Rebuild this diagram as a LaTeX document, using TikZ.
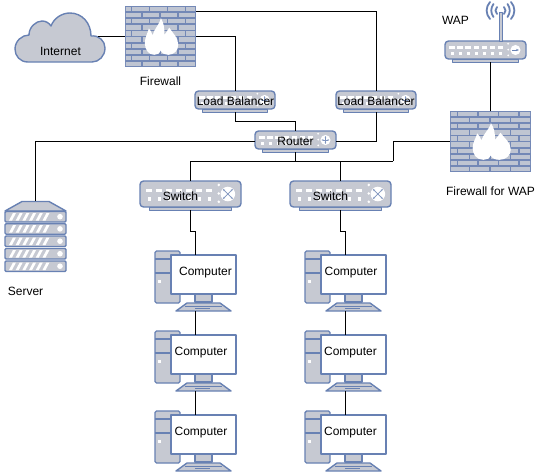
\documentclass[tikz,border=0pt]{standalone}
\usepackage{fontspec}
\setmainfont{Liberation Sans}
\usetikzlibrary{arrows.meta}
\definecolor{devline}{HTML}{6881B3}
\definecolor{devfill}{HTML}{C6C9D2}
\definecolor{mortar}{HTML}{7388B6}
\definecolor{brick}{HTML}{BFC5D2}
\tikzset{
  x=1pt,y=-1pt,
  dev/.style={draw=devline,fill=devfill,line width=1.4pt,line join=round},
  box/.style={inner sep=0,outer sep=0,minimum width=#1,anchor=north west},
  lbl/.style={font=\fontsize{12}{14}\selectfont,text=black,inner sep=0},
  link/.style={draw=black,line width=1pt},
  wh/.style={fill=white,draw=none},
}
% name, x, y, w, h(body)
\newcommand{\netdev}[6]{%
  \node[box=#4 pt,minimum height=#5 pt+3pt] (#1) at (#2,#3) {};
  \begin{scope}[shift={(#2,#3)}]
    \draw[dev,line width=1pt,fill=devfill] ({#4*0.09},#5) rectangle ({#4*0.91},#5+3);
    \draw[dev,rounded corners=3.5pt] (0,0) rectangle (#4,#5);
    \foreach \k in {0,...,6}{
      \fill[wh] ({#4*0.055+\k*#4*0.099},{#5*0.3}) rectangle ++({#4*0.065},{#5*0.13});
      \fill[wh] ({#4*0.075+\k*#4*0.099},{#5*0.62}) rectangle ++({#4*0.035},{#5*0.13});
    }
    \foreach \k in {0.15,0.48,0.8}
      \fill[wh] ({#4*0.78},{#5*\k}) circle ({#5*0.055});
    \fill[wh] ({#4*0.87},{#5*0.5}) circle ({#5*0.28});
    \begin{scope}[shift={({#4*0.87},{#5*0.5})}]
      #6
    \end{scope}
  \end{scope}}
\newcommand{\xicon}{%
  \draw[devline!85,line width=.6pt,{Stealth[length=2.5pt]}-{Stealth[length=2.5pt]}] (-5,-5) -- (5,5);
  \draw[devline!85,line width=.6pt,{Stealth[length=2.5pt]}-{Stealth[length=2.5pt]}] (5,-5) -- (-5,5);}
\newcommand{\crossicon}{%
  \draw[devline!85,line width=.6pt,{Stealth[length=2pt]}-{Stealth[length=2pt]}] (-4,0) -- (4,0);
  \draw[devline!85,line width=.6pt,{Stealth[length=2pt]}-{Stealth[length=2pt]}] (0,-4) -- (0,4);}
\newcommand{\arrowicon}{%
  \draw[devline,line width=1pt,-{Stealth[length=3pt]}] (-3,0) -- (3.5,0);}
% name, x, y, w, h
\newcommand{\firewall}[5]{%
  \node[box=#4 pt,minimum height=#5 pt] (#1) at (#2,#3) {};
  \begin{scope}[shift={(#2,#3)}]
    \fill[mortar] (0,0) rectangle (#4,#5);
    \begin{scope}
      \clip (0.8,0.8) rectangle (#4-0.8,#5-0.8);
      \foreach \r in {0,...,9}{
        \pgfmathsetmacro{\off}{mod(\r,2)==0 ? -13 : -1}
        \foreach \c in {0,...,5}{
          \fill[brick] ({(\off+\c*20.5)*#4/81+0.8},{\r*#5/10+0.9}) rectangle ({(\off+(\c+1)*20.5)*#4/81-0.8},{(\r+1)*#5/10-0.9});
        }
      }
    \end{scope}
    \begin{scope}[shift={({#4*0.28},{#5*0.2})},xscale={#4*0.47/100},yscale={#5*0.6/100}]
      \fill[white]
        (47,88) .. controls (44,97) and (36,100) .. (28,100)
        .. controls (10,100) and (0,85) .. (0,68)
        .. controls (0,52) and (8,42) .. (12,28)
        .. controls (17,33) and (21,40) .. (23,47)
        .. controls (27,30) and (42,20) .. (48,0)
        .. controls (56,12) and (60,28) .. (58,46)
        .. controls (63,40) and (68,34) .. (73,26)
        .. controls (82,40) and (100,52) .. (100,72)
        .. controls (100,88) and (88,100) .. (70,100)
        .. controls (60,100) and (52,97) .. (47,88) -- cycle;
    \end{scope}
  \end{scope}}
% name, x, y
\newcommand{\computer}[3]{%
  \node[box=81pt,minimum height=56pt] (#1) at (#2,#3+4) {};
  \begin{scope}[shift={(#2,#3)}]
    \draw[dev,rounded corners=1.5pt] (0,0) rectangle (25,52);
    \draw[devline,line width=1.2pt] (0,8) -- (25,8) (0,22) -- (25,22);
    \fill[wh] (3,29) rectangle (6,32);
    \draw[dev] (40,42) rectangle (57,51);
    \draw[dev] (32,52) -- (65,52) -- (76,60) -- (21,60) -- cycle;
    \draw[devline,line width=.9pt] (30,55) -- (67,55) (40,57.5) -- (55,57.5);
    \draw[dev,fill=white] (16,4) rectangle (81,43);
  \end{scope}}
\begin{document}
\begin{tikzpicture}
\useasboundingbox (0,0) rectangle (541,472);
\fill[white] (0,0) rectangle (541,472);

% Internet cloud
\node[box=90pt,minimum height=49pt] (cloud) at (15,13) {};
\draw[dev] (28,62) .. controls (20,62) and (15,56) .. (15,49)
  .. controls (15,41) and (22,35) .. (29,35)
  .. controls (29,27) and (36,21) .. (42,21)
  .. controls (46,21) and (49,23) .. (51,26)
  .. controls (54,18) and (62,13) .. (70,13)
  .. controls (82,13) and (91,23) .. (91,36)
  .. controls (99,35) and (105,41) .. (105,48)
  .. controls (105,56) and (99,62) .. (92,62) -- cycle;

\firewall{fwa}{125}{6}{71}{61}
\firewall{fwb}{450}{111}{81}{61}

\netdev{lba}{195}{91}{80}{18}{\crossicon}
\netdev{lbb}{336}{91}{80}{18}{\crossicon}
\netdev{rt}{255}{131}{81}{18}{\crossicon}
\netdev{swa}{140}{181}{101}{26}{\xicon}
\netdev{swb}{290}{181}{101}{26}{\xicon}
\netdev{wap}{445}{41}{81}{18}{\arrowicon}

% WAP antenna and signal
\draw[dev,line width=1pt,fill=devfill] (499,12) rectangle (502,41);
\begin{scope}[devline,line width=1.8pt,line cap=round]
  \draw (497,7) .. controls (495,9) and (495,12) .. (497,14);
  \draw (493.5,4) .. controls (490.5,8) and (490.5,13) .. (493.5,17);
  \draw (490,2) .. controls (485.5,7) and (485.5,14) .. (490,19);
  \draw (504,7) .. controls (506,9) and (506,12) .. (504,14);
  \draw (507.5,4) .. controls (510.5,8) and (510.5,13) .. (507.5,17);
  \draw (511,2) .. controls (515.5,7) and (515.5,14) .. (511,19);
\end{scope}

% Server
\node[box=61pt,minimum height=71pt] (srv) at (5,201) {};
\draw[dev] (22,201.5) -- (49,201.5) -- (66,211) -- (5,211) -- cycle;
\foreach \s in {211.5,223.7,236,248.5,261}{
  \draw[dev,rounded corners=1.2pt] (5,\s) rectangle (66,\s+10.5);
  \foreach \t in {0,...,5}
    \fill[wh] (9+\t*6.7,\s+9) -- (12+\t*6.7,\s+9) -- (16+\t*6.7,\s+1.5) -- (13+\t*6.7,\s+1.5) -- cycle;
  \fill[wh] (60,\s+5.2) circle (2.8);
}

\computer{ca}{155}{251}
\computer{cb}{155}{331}
\computer{cc}{155}{411}
\computer{cd}{305}{251}
\computer{ce}{305}{331}
\computer{cf}{305}{411}

% Connectors
\coordinate (bus) at (295.5,161);
\coordinate (jog) at (393,161);
\coordinate (lbjoin) at (235,121);
\coordinate (kinka) at (190.5,231);
\coordinate (kinkb) at (340.5,231);
\draw[link] ([xshift=-7pt]cloud.east |- fwa.west) -- (fwa.west);
\draw[link] (fwa.east) -| (lba.north);
\draw[link] ([yshift=25pt]fwa.east) -| (lbb.north);
\draw[link] (lba.south) -- (lbjoin) -| (rt.north);
\draw[link] (lbb.south) |- (rt.east);
\draw[link] (rt.west) -| (srv.north);
\draw[link] (rt.south) -- (bus);
\draw[link] (swa.north) |- (jog);
\draw[link] (swb.north) -- (swb.north |- jog);
\draw[link] (jog) |- (fwb.west);
\draw[link] (fwb.north) -- (fwb.north |- wap.south);
\draw[link] (swa.south) -- (kinka) -| (ca.north);
\draw[link] (swb.south) -- (kinkb) -| (cd.north);
\draw[link] (ca.south) -- (cb.north);
\draw[link] (cb.south) -- (cc.north);
\draw[link] (cd.south) -- (ce.north);
\draw[link] (ce.south) -- (cf.north);

% Labels
\node[lbl] (tinet) at (60.5,51) {Internet};
\node[lbl] (tfwa) at (160.5,81) {Firewall};
\node[lbl] (tlba) at (235.5,101) {Load Balancer};
\node[lbl] (tlbb) at (376,101) {Load Balancer};
\node[lbl] (trt) at (295.5,141) {Router};
\node[lbl] (tswa) at (180.5,196) {Switch};
\node[lbl] (tswb) at (330.5,196) {Switch};
\node[lbl] (tsrv) at (25.5,291) {Server};
\node[lbl] (twap) at (455.5,20) {WAP};
\node[lbl] (tfwb) at (490.5,191) {Firewall for WAP};
\node[lbl] (tca) at (205.5,272.5) {Computer};
\node[lbl] (tcb) at (201,352.5) {Computer};
\node[lbl] (tcc) at (201,432.5) {Computer};
\node[lbl] (tcd) at (351,272.5) {Computer};
\node[lbl] (tce) at (350.5,352.5) {Computer};
\node[lbl] (tcf) at (350.5,432.5) {Computer};
\end{tikzpicture}
\end{document}
